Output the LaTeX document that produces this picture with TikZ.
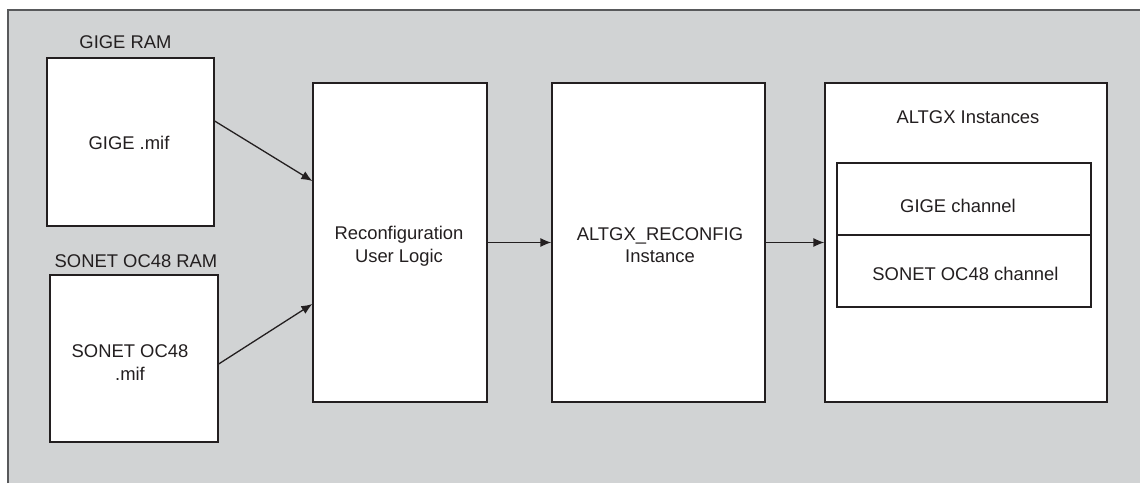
\documentclass[tikz,border=0pt]{standalone}
\usepackage{fontspec}
\setmainfont{Liberation Sans}
\usetikzlibrary{arrows.meta}
\definecolor{bggray}{HTML}{D1D3D4}
\definecolor{bordercol}{HTML}{58595B}
\definecolor{ink}{HTML}{231F20}
\tikzset{
  box/.style={draw=ink, fill=white, line width=1.3pt, inner sep=0pt, rectangle},
  txt/.style={text=ink, inner sep=0pt, anchor=base, font=\fontsize{18.4}{22}\selectfont},
  conn/.style={draw=ink, line width=1.3pt, -{Latex[length=11pt,width=9pt]}}
}
\begin{document}
\begin{tikzpicture}[x=1pt,y=-1pt]
\useasboundingbox (0,0) rectangle (1140,483);
\fill[bggray] (8,10) rectangle (1140,483);
\draw[bordercol, line width=1.5pt] (8,483) -- (8,10) -- (1140,10);

% boxes
\node[box, minimum width=167pt, minimum height=168pt] (gige) at (130.5,142) {};
\node[box, minimum width=168pt, minimum height=167pt] (sonet) at (134,358.5) {};
\node[box, minimum width=174pt, minimum height=319pt] (reconf) at (400,242.5) {};
\node[box, minimum width=213pt, minimum height=319pt] (altrec) at (658.5,242.5) {};
\node[box, minimum width=282pt, minimum height=319pt] (inst) at (966,242.5) {};
\node[box, minimum width=254pt, minimum height=72pt] (gch) at (964,199) {};
\node[box, minimum width=254pt, minimum height=72pt] (sch) at (964,271) {};

% texts
\node[txt] (tgigeram) at (125.5,48) {GIGE RAM};
\node[txt] (tgigemif) at (129,149) {GIGE .mif};
\node[txt] (tsonetram) at (136,267) {SONET OC48 RAM};
\node[txt] (tsonet1) at (130,357) {SONET OC48};
\node[txt] (tsonet2) at (130,380) {.mif};
\node[txt] (treconf1) at (399,239) {Reconfiguration};
\node[txt] (treconf2) at (399,262) {User Logic};
\node[txt] (talt1) at (660,240) {ALTGX\_RECONFIG};
\node[txt] (talt2) at (660,262) {Instance};
\node[txt] (tinst) at (968,123) {ALTGX Instances};
\node[txt] (tgch) at (958,212) {GIGE channel};
\node[txt] (tsch) at (965.5,280) {SONET OC48 channel};

% connectors
\draw[conn] ([yshift=21pt]gige.east) -- ([yshift=61.5pt]reconf.west);
\draw[conn] ([yshift=-5.5pt]sonet.east) -- ([yshift=-61.5pt]reconf.west);
\draw[conn] (reconf.east) -- (altrec.west);
\draw[conn] (altrec.east) -- (inst.west);
\end{tikzpicture}
\end{document}
